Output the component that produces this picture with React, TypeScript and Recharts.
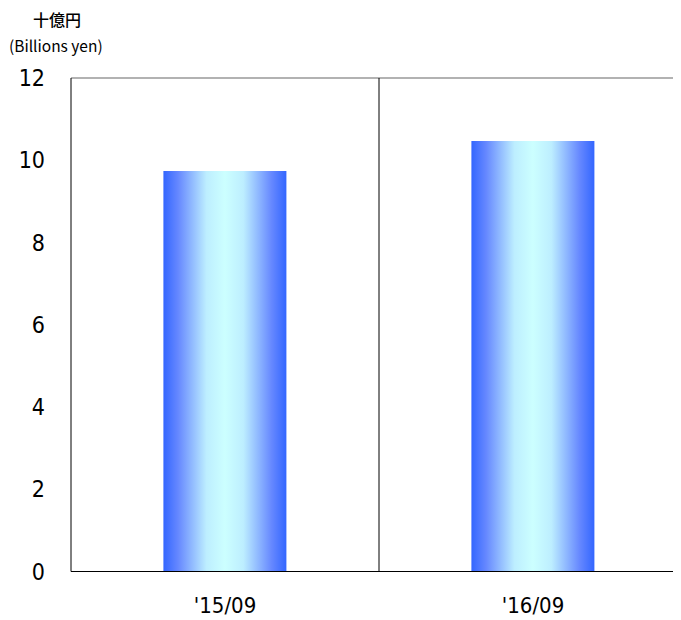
import React from "react";
import { BarChart, Bar, XAxis, YAxis, CartesianGrid } from "recharts";

const periods = ["'15/09", "'16/09"];
const amounts = [9.74, 10.47];
const yTicks = [0, 2, 4, 6, 8, 10, 12];

const data = periods.map((period, i) => ({ period, amount: amounts[i] }));

const numFont = "'DejaVu Sans Condensed', 'DejaVu Sans', sans-serif";

export default function App() {
  return (
    <div style={{ position: "relative", width: 673, height: 612, overflow: "hidden" }}>
      <div
        style={{
          position: "absolute",
          left: 25,
          top: 0,
          fontFamily: "'Noto Sans CJK JP', sans-serif",
          fontSize: 16,
          fontWeight: 500,
          lineHeight: "22px",
        }}
      >
        十億円
      </div>
      <div
        style={{
          position: "absolute",
          left: 1,
          top: 27,
          fontFamily: "'Noto Sans CJK JP', sans-serif",
          fontSize: 15.5,
          lineHeight: "20px",
        }}
      >
        (Billions yen)
      </div>
      <BarChart
        width={680}
        height={612}
        data={data}
        margin={{ top: 70, right: 1, bottom: 0, left: 0 }}
        barCategoryGap="30%"
      >
        <defs>
          <linearGradient id="barFill" x1="0" y1="0" x2="1" y2="0">
            <stop offset="0%" stopColor="#3366ff" />
            <stop offset="12%" stopColor="#6688ff" />
            <stop offset="35%" stopColor="#bdeeff" />
            <stop offset="50%" stopColor="#ccffff" />
            <stop offset="65%" stopColor="#bdeeff" />
            <stop offset="88%" stopColor="#6688ff" />
            <stop offset="100%" stopColor="#3366ff" />
          </linearGradient>
        </defs>
        <CartesianGrid
          vertical={false}
          stroke="#999999"
          strokeWidth={1.5}
          horizontalCoordinatesGenerator={({ offset }: any) => [offset.top]}
        />
        <CartesianGrid
          horizontal={false}
          stroke="#000000"
          verticalCoordinatesGenerator={({ offset }: any) => [offset.left + offset.width / 2]}
        />
        <XAxis
          dataKey="period"
          height={48.5}
          axisLine={{ stroke: "#000" }}
          tickLine={false}
          tickSize={6}
          tickMargin={20}
          tick={{ fill: "#000", fontSize: 22, fontFamily: numFont }}
        />
        <YAxis
          width={63}
          domain={[0, 12]}
          ticks={yTicks}
          interval={0}
          axisLine={{ stroke: "#000" }}
          tickLine={false}
          tickSize={6}
          tickMargin={20}
          tick={{ fill: "#000", fontSize: 23, fontFamily: numFont }}
        />
        <Bar dataKey="amount" fill="url(#barFill)" isAnimationActive={false} />
      </BarChart>
    </div>
  );
}
